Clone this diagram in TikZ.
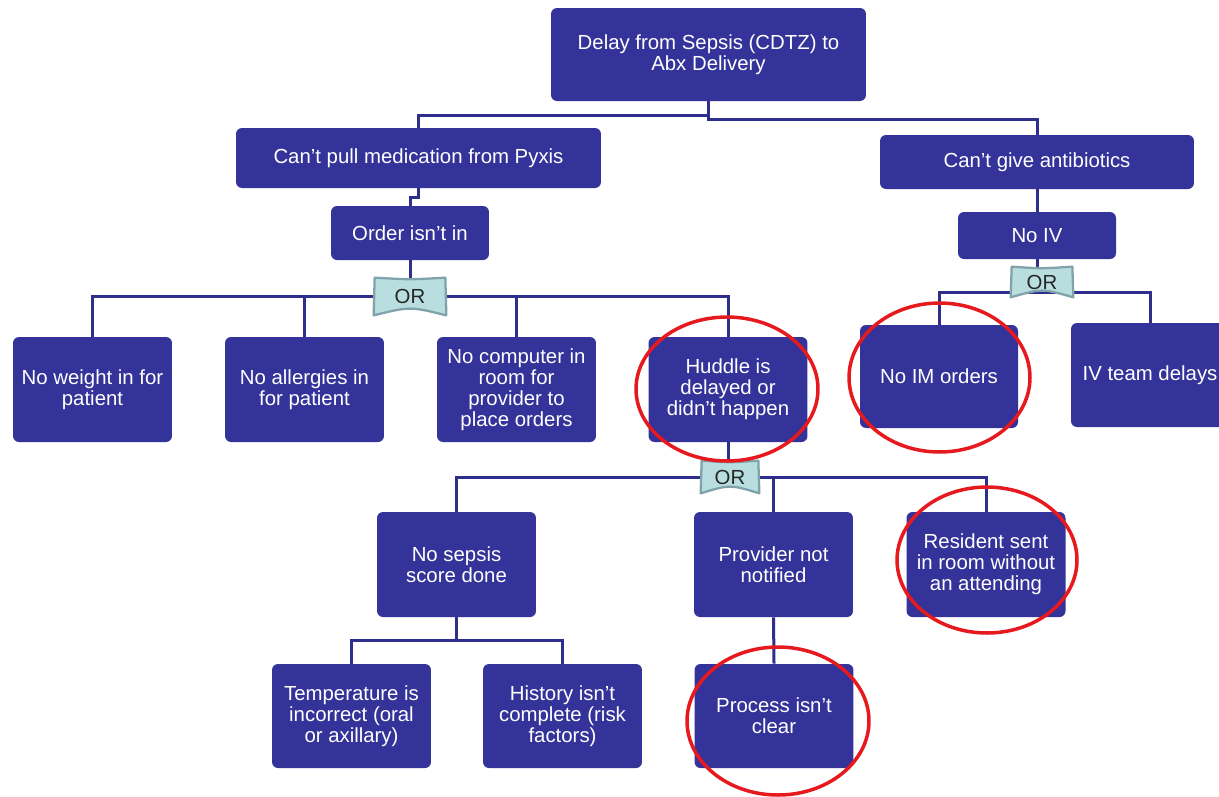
\documentclass[tikz,border=0pt]{standalone}
\usepackage{fontspec}
\setmainfont{Liberation Sans}
\usetikzlibrary{calc}

\definecolor{boxblue}{RGB}{51,51,153}
\definecolor{linkblue}{RGB}{46,46,140}
\definecolor{gatefill}{RGB}{185,222,224}
\definecolor{gateedge}{RGB}{128,162,170}
\definecolor{ringred}{RGB}{230,25,30}

\pgfdeclarelayer{back}
\pgfsetlayers{back,main}

% banner-shaped outline of an OR gate, drawn inside the gate node's box
\newcommand\orbanner[1]{%
  \filldraw[banner] (#1.north west) .. controls ($(#1.north)+(0,2)$) .. (#1.north east)
    -- ($(#1.south east)+(1,0)$) .. controls ($(#1.south)+(0,-9)$) .. ($(#1.south west)+(-1,0)$) -- cycle;}

\begin{document}
\begin{tikzpicture}[x=0.02cm,y=-0.02cm,
  txt/.style={font=\fontsize{11.6}{11.9}\selectfont},
  box/.style={txt, rectangle, rounded corners=0.12cm, fill=boxblue, text=white,
              align=center, inner sep=0pt},
  cause/.style={box, minimum width=3.18cm, minimum height=2.10cm},
  gate/.style={txt, rectangle, inner sep=0pt, text=black!85},
  banner/.style={fill=gatefill, draw=gateedge, line width=1.3pt, line join=round},
  link/.style={draw=linkblue, line width=0.06cm},
  ring/.style={draw=ringred, line width=0.07cm}]

\useasboundingbox (0,0) rectangle (1219,796);
\clip (0,0) rectangle (1219,796);

% top event and first level
\node[box, minimum width=6.30cm, minimum height=1.86cm] (top) at (708.5,54.5)
  {Delay from Sepsis (CDTZ) to\\Abx Delivery};
\node[box, minimum width=7.30cm, minimum height=1.20cm] (pyxis) at (418.5,158)
  {Can’t pull medication from Pyxis};
\node[box, minimum width=6.28cm, minimum height=1.08cm] (abx) at (1037,162)
  {Can’t give antibiotics};
\node[box, minimum width=3.16cm, minimum height=1.08cm] (order) at (410,233)
  {Order isn’t in};
\node[box, minimum width=3.16cm, minimum height=0.94cm] (noiv) at (1037,235.5)
  {No IV};

% OR gates
\node[gate, minimum width=1.40cm, minimum height=0.74cm] (or1) at (410,296.5) {OR};
\node[gate, minimum width=1.12cm, minimum height=0.64cm] (or2) at (730,477) {OR};
\node[gate, minimum width=1.20cm, minimum height=0.60cm] (or3) at (1042,282) {OR};

% causes under "Order isn't in"
\node[cause] (weight)    at (92.5,389.5)  {No weight in for\\patient};
\node[cause] (allergies) at (304.5,389.5) {No allergies in\\for patient};
\node[cause] (computer)  at (516.5,389.5) {No computer in\\room for\\provider to\\place orders};
\node[cause] (huddle)    at (728,389.5)   {Huddle is\\delayed or\\didn’t happen};

% causes under "No IV"
\node[box, minimum width=3.16cm, minimum height=2.06cm] (noim) at (939,376.5) {No IM orders};
\node[box, minimum width=3.16cm, minimum height=2.08cm] (ivteam) at (1150,375) {IV team delays};

% causes under the huddle
\node[cause] (nosepsis) at (456.5,564.5) {No sepsis\\score done};
\node[cause] (provider) at (773.5,564.5) {Provider not\\notified};
\node[cause] (resident) at (986,564.5)   {Resident sent\\in room without\\an attending};

% bottom level
\node[box, minimum width=3.18cm, minimum height=2.08cm] (temp)    at (351.5,716) {Temperature is\\incorrect (oral\\or axillary)};
\node[box, minimum width=3.18cm, minimum height=2.08cm] (history) at (562.5,716) {History isn’t\\complete (risk\\factors)};
\node[box, minimum width=3.18cm, minimum height=2.08cm] (process) at (774,716)   {Process isn’t\\clear};

\coordinate (fork) at (456.5,640);
\coordinate (bus3) at (1042,292);

\begin{pgfonlayer}{back}
  \draw[link] (top.south) -- ++(0,14) -| (pyxis.north);
  \draw[link] (top.south) -- ++(0,18) -| (abx.north);
  \draw[link] (pyxis.south) -- ++(0,9) -| (order.north);
  \draw[link] (abx.south) -- (noiv.north);

  \draw[link] (order.south) -- (or1.north);
  \draw[link] (weight.north) |- (or1.center) -| (huddle.north);
  \draw[link] (allergies.north) -- (allergies.north |- or1.center);
  \draw[link] (computer.north) -- (computer.north |- or1.center);

  \draw[link] (huddle.south) -- (huddle.south |- or2.north);
  \draw[link] (nosepsis.north) |- (or2.center) -| (resident.north);
  \draw[link] (provider.north) -- (provider.north |- or2.center);

  \draw[link] (nosepsis.south) -- (fork);
  \draw[link] (temp.north) |- (fork) -| (history.north);
  \draw[link] (provider.south) -- (process.north);

  \draw[link] (noiv.south) -- (noiv.south |- or3.north);
  \draw[link] (noim.north) |- (bus3) -| (ivteam.north);

  \orbanner{or1}
  \orbanner{or2}
  \orbanner{or3}
\end{pgfonlayer}

% highlighted causes
\draw[ring] (727,389)   ellipse [x radius=1.82cm, y radius=1.44cm];
\draw[ring] (939.5,377.5) ellipse [x radius=1.81cm, y radius=1.49cm];
\draw[ring] (987,560)   ellipse [x radius=1.80cm, y radius=1.46cm];
\draw[ring] (778,721)   ellipse [x radius=1.82cm, y radius=1.48cm];

\end{tikzpicture}
\end{document}
